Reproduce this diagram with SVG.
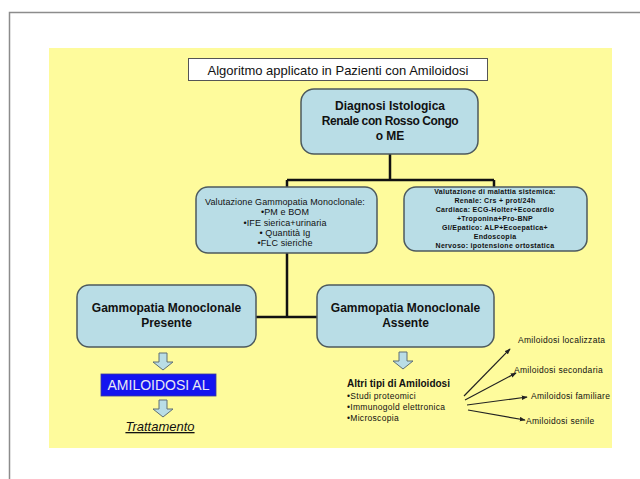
<svg xmlns="http://www.w3.org/2000/svg" width="640" height="479" viewBox="0 0 640 479">
  <defs>
    <style>
      .box { fill: #B9DDE6; stroke: #4d5a5e; stroke-width: 1.5; }
      .conn { fill: none; stroke: #111; stroke-width: 2.5; }
      .fan { fill: none; stroke: #222; stroke-width: 1.2; }
      .blk { fill: #B9DDE6; stroke: #5f6f74; stroke-width: 1; }
      .hb { font-family: "Liberation Sans", Arial, sans-serif; font-weight: bold; fill: #111; text-anchor: middle; }
      .sm { font-family: "Liberation Sans", Arial, sans-serif; fill: #111; }
    </style>
    <marker id="tip" viewBox="0 0 8 6" refX="7" refY="3" markerWidth="6" markerHeight="5" orient="auto" markerUnits="userSpaceOnUse">
      <path d="M0,0 L8,3 L0,6 Z" fill="#222"/>
    </marker>
    <path id="downArrow" d="M-4,0 H4 V9 H10 L0,17 L-10,9 H-4 Z"/>
  </defs>

  <!-- page -->
  <rect x="0" y="0" width="640" height="479" fill="#ffffff"/>
  <path d="M9.5,479 V12.5 H640" fill="none" stroke="#8c8c8c" stroke-width="1.5"/>
  <rect x="49" y="48" width="563" height="400" fill="#FEFB9C"/>

  <!-- title -->
  <g id="title">
    <rect x="188.5" y="58.5" width="299" height="22" fill="#ffffff" stroke="#555" stroke-width="1"/>
    <text x="338" y="74.5" class="sm" font-size="13" text-anchor="middle">Algoritmo applicato in Pazienti con Amiloidosi</text>
  </g>

  <!-- connectors -->
  <g id="connectors">
    <path class="conn" d="M390,154 V180 M287,180 H494 M287,180 V188 M494,180 V187"/>
    <path class="conn" d="M287,253 V317 M256,317 H317"/>
    <path class="fan" d="M464,396 L510,349" marker-end="url(#tip)"/>
    <path class="fan" d="M465,400 L516,373" marker-end="url(#tip)"/>
    <path class="fan" d="M467,405 L527,397" marker-end="url(#tip)"/>
    <path class="fan" d="M468,410 L525,420" marker-end="url(#tip)"/>
  </g>

  <g id="diagnosi">
    <rect class="box" x="301" y="89" width="177" height="65" rx="13"/>
    <text class="hb" font-size="12" x="390" y="110">Diagnosi Istologica</text>
    <text class="hb" font-size="12" x="390" y="125" letter-spacing="-0.4">Renale con Rosso Congo</text>
    <text class="hb" font-size="12" x="390" y="140">o ME</text>
  </g>

  <g id="valutazione-gammopatia">
    <rect class="box" x="196" y="187" width="181" height="66" rx="12"/>
    <g class="sm" font-size="9" text-anchor="middle" letter-spacing="0.1">
      <text x="285" y="205">Valutazione Gammopatia Monoclonale:</text>
      <text x="285" y="215">•PM e BOM</text>
      <text x="285" y="226">•IFE sierica+urinaria</text>
      <text x="285" y="236">• Quantità Ig</text>
      <text x="285" y="246">•FLC sieriche</text>
    </g>
  </g>

  <g id="valutazione-sistemica">
    <rect class="box" x="404" y="187" width="183" height="64" rx="12"/>
    <g class="sm" font-size="7" font-weight="bold" text-anchor="middle" letter-spacing="0.3">
      <text x="495" y="194">Valutazione di malattia sistemica:</text>
      <text x="495" y="203">Renale: Crs + prot/24h</text>
      <text x="495" y="212">Cardiaca: ECG-Holter+Ecocardio</text>
      <text x="495" y="221">+Troponina+Pro-BNP</text>
      <text x="495" y="230">GI/Epatico: ALP+Ecoepatica+</text>
      <text x="495" y="239">Endoscopia</text>
      <text x="495" y="248">Nervoso: ipotensione ortostatica</text>
    </g>
  </g>

  <g id="presente">
    <rect class="box" x="77" y="285" width="179" height="62" rx="12"/>
    <text class="hb" font-size="12" x="166.5" y="312">Gammopatia Monoclonale</text>
    <text class="hb" font-size="12" x="166.5" y="327">Presente</text>
  </g>

  <g id="assente">
    <rect class="box" x="317" y="285" width="177" height="62" rx="12"/>
    <text class="hb" font-size="12" x="405.5" y="312">Gammopatia Monoclonale</text>
    <text class="hb" font-size="12" x="405.5" y="327">Assente</text>
  </g>

  <!-- AL branch -->
  <g id="al-branch">
    <use href="#downArrow" class="blk" x="163" y="353"/>
    <rect x="101" y="374" width="115" height="22" fill="#1414F0" stroke="#3a3a9a" stroke-width="0.8"/>
    <text x="158.5" y="390" font-family="Liberation Sans, Arial, sans-serif" font-size="14" fill="#e8e8f2" text-anchor="middle">AMILOIDOSI AL</text>
    <use href="#downArrow" class="blk" x="163" y="400"/>
    <text x="160" y="431" class="sm" font-size="13" font-style="italic" text-anchor="middle" text-decoration="underline">Trattamento</text>
  </g>

  <!-- other amyloidoses -->
  <g id="altri-tipi">
    <use href="#downArrow" class="blk" x="403" y="352"/>
    <text x="347" y="387" class="sm" font-size="10" font-weight="bold">Altri tipi di Amiloidosi</text>
    <g class="sm" font-size="8.5" letter-spacing="0.3">
      <text x="347" y="399">•Studi proteomici</text>
      <text x="347" y="410">•Immunogold elettronica</text>
      <text x="347" y="421">•Microscopia</text>
    </g>
  </g>

  <g id="sottotipi" class="sm" font-size="8.5" letter-spacing="0.3">
    <text x="518" y="343">Amiloidosi localizzata</text>
    <text x="514" y="373">Amiloidosi secondaria</text>
    <text x="531" y="399">Amiloidosi familiare</text>
    <text x="526" y="424">Amiloidosi senile</text>
  </g>
</svg>
